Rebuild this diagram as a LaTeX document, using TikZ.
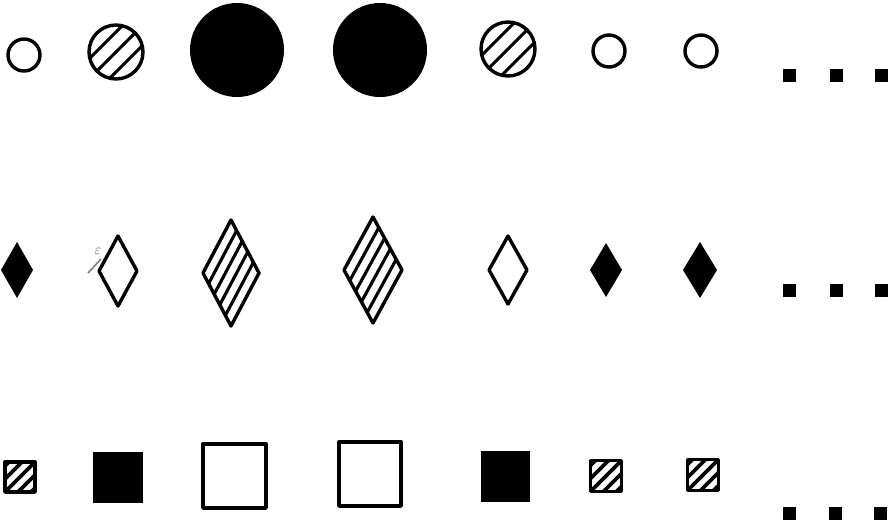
\documentclass[tikz,border=0pt]{standalone}
\usetikzlibrary{calc}
\begin{document}
\begin{tikzpicture}[x=1pt,y=-1pt,line join=round,
  outl/.style={line width=3.4pt,draw=black},
  hatch/.style={line width=3.1pt},
  sqhatch/.style={line width=3.8pt},
  dotsq/.style={fill=black}]
\useasboundingbox (0,0) rectangle (888,523);
% ---------- row 1: circles ----------
\newcommand\plaincircle[3]{\draw[outl] (#1,#2) circle (#3);}
\newcommand\hatchcircle[3]{%
  \begin{scope}\clip (#1,#2) circle (#3);
    \foreach \k in {-1,0,1}{\draw[hatch] ($(#1,#2)+(\k*20-60,60)$) -- ($(#1,#2)+(\k*20+60,-60)$);}
  \end{scope}
  \draw[outl] (#1,#2) circle (#3);}
\plaincircle{24}{55}{16}
\hatchcircle{116}{52}{27}
\fill[black] (237,50) circle (47);
\fill[black] (380,50) circle (47);
\hatchcircle{508}{49}{27}
\plaincircle{609}{51}{16}
\plaincircle{701}{51}{16}
\foreach \xx in {789,836,881}{\fill[dotsq] (\xx-6.5,75-6.5) rectangle (\xx+6.5,75+6.5);}
% ---------- row 2: diamonds ----------
\newcommand\diam[4]{(#1-#3,#2) -- (#1,#2-#4) -- (#1+#3,#2) -- (#1,#2+#4) -- cycle}
\newcommand\hatchdiam[4]{%
  \foreach \t in {0.2,0.4,0.6,0.8}{%
    \draw[hatch] ($(#1-#3,#2)+\t*(#3,#4)$) -- ($(#1,#2-#4)+\t*(#3,#4)$);}
  \draw[outl] \diam{#1}{#2}{#3}{#4};}
\fill[black] \diam{17}{270}{16}{28};
\draw[outl] \diam{118}{271}{19}{35};
\hatchdiam{231}{273}{28}{53}
\hatchdiam{373}{270}{29}{53}
\draw[outl] \diam{508}{270}{19}{34};
\fill[black] \diam{606}{270}{16}{27};
\fill[black] \diam{700}{270}{17}{28};
\foreach \xx in {789,836,881}{\fill[dotsq] (\xx-6.5,290-6.5) rectangle (\xx+6.5,290+6.5);}
% small mark beside second diamond
\node[text=black!65,font=\Large,inner sep=0pt] (emark) at (98,251) {$\varepsilon$};
\draw[black!50,line width=1.6pt] (88,273) -- (101,259);
% ---------- row 3: squares ----------
\newcommand\hatchsq[3]{%
  \begin{scope}\clip (#1-#3,#2-#3) rectangle (#1+#3,#2+#3);
    \foreach \k in {-2,-1,0,1,2}{\draw[sqhatch] ($(#1,#2)+(\k*13-40,40)$) -- ($(#1,#2)+(\k*13+40,-40)$);}
  \end{scope}
  \draw[outl] (#1-#3,#2-#3) rectangle (#1+#3,#2+#3);}
\hatchsq{20}{477}{15}
\fill[black] (93,452) rectangle (143,503);
\draw[outl] (203,444) rectangle (266,508);
\draw[outl] (339,442) rectangle (401,506);
\fill[black] (481,451) rectangle (530,502);
\hatchsq{606}{476}{15.5}
\hatchsq{703}{475}{15.5}
\foreach \xx in {789,835,880}{\fill[dotsq] (\xx-6.5,513-6.5) rectangle (\xx+6.5,513+6.5);}
\end{tikzpicture}
\end{document}
